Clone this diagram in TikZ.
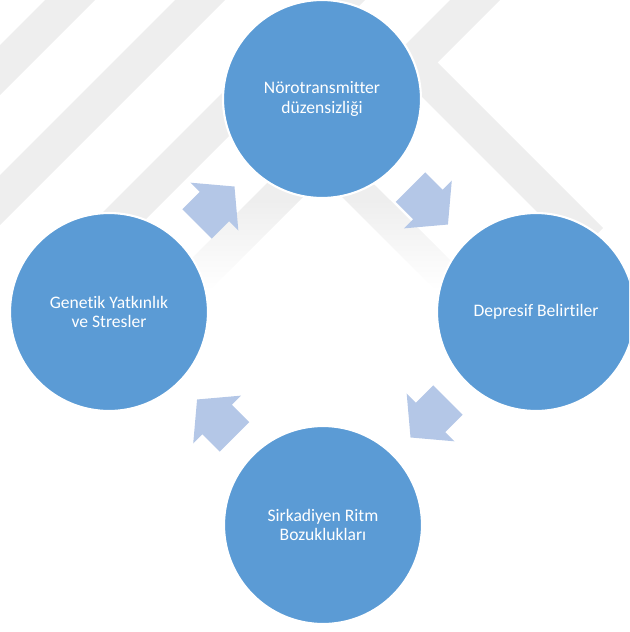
\documentclass[tikz,border=0pt]{standalone}
\usepackage{fontspec}
\setmainfont{Carlito}[Ligatures=NoCommon]
\usetikzlibrary{shapes.arrows,calc}
\definecolor{stageblue}{HTML}{5B9BD5}
\definecolor{flowblue}{HTML}{B4C7E7}
\definecolor{bandgray}{HTML}{EEEEEE}

\begin{document}
\begin{tikzpicture}[
    x=0.02cm, y=-0.02cm,
    stage/.style={circle, fill=stageblue, draw=white, line width=1.2pt,
                  minimum size=3.96cm, inner sep=0pt, text=white,
                  align=center, font=\fontsize{10}{11.3}\selectfont},
    flow/.style={single arrow, fill=flowblue, draw=none, inner sep=0pt,
                 text height=0.82cm, text depth=0pt, minimum height=1.06cm,
                 single arrow head extend=0.26cm, single arrow tip angle=100,
                 anchor=tail},
    band/.style={fill=bandgray, draw=none},
    bandend/.style={top color=bandgray, bottom color=white, draw=none}
  ]
    \clip (0,0) rectangle (629,632);
    % light diagonal bands behind the cycle
    \fill[band] (45,0) -- (95,0) -- (0,95) -- (0,45) -- cycle;
    \fill[band] (175,0) -- (225,0) -- (0,225) -- (0,175) -- cycle;
    \fill[band] (315,0) -- (365,0) -- (85,280) -- (35,280) -- cycle;
    \fill[band] (450,0) -- (500,0) -- (300,200) -- (250,200) -- cycle;
    \shade[bandend] (250,200) -- (300,200) -- (210,290) -- (160,290) -- cycle;
    \fill[band] (400,75) -- (425,50) -- (603,228) -- (578,253) -- cycle;
    \fill[band] (310,165) -- (332,143) -- (390,200) -- (345,200) -- cycle;
    \shade[bandend] (345,200) -- (390,200) -- (480,290) -- (435,290) -- cycle;

    \node[stage] (noro) at (322,99)  {Nörotransmitter\\düzensizliği};
    \node[stage] (depr) at (536,312) {Depresif Belirtiler};
    \node[stage] (sirk) at (323,525) {Sirkadiyen Ritm\\Bozuklukları};
    \node[stage] (gene) at (109,312) {Genetik Yatkınlık\\ve Stresler};

    % block arrows sit halfway between neighbouring stages
    \node[flow, rotate=45]   (f1) at ($(gene)!0.5!(noro)!0.53cm!(gene)$) {};
    \node[flow, rotate=-45]  (f2) at ($(noro)!0.5!(depr)!0.53cm!(noro)$) {};
    \node[flow, rotate=-135] (f3) at ($(depr)!0.5!(sirk)!0.53cm!(depr)$) {};
    \node[flow, rotate=135]  (f4) at ($(sirk)!0.5!(gene)!0.53cm!(sirk)$) {};
\end{tikzpicture}
\end{document}
